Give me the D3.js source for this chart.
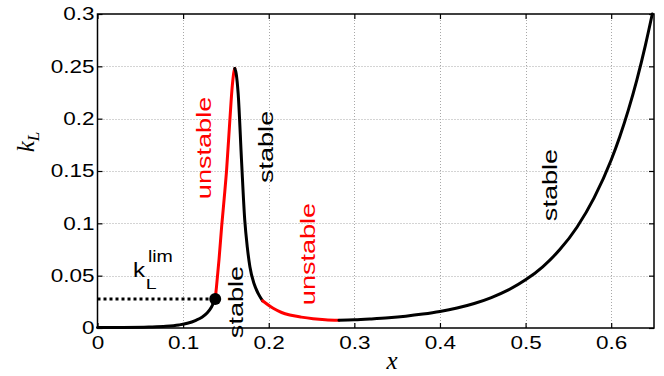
<!DOCTYPE html>
<html>
<head>
<meta charset="utf-8">
<script src="https://cdn.jsdelivr.net/npm/d3@7"></script>
<style>
  body { margin: 0; background: #fff; }
  svg { display: block; font-family: "Liberation Sans", Arial, sans-serif; }
</style>
</head>
<body>
<svg width="664" height="376"></svg>
<script>
// Branches of the k_L(x) curve as [x, kL]
let stableLow = [[0, 0.0004], [0.03, 0.0005], [0.06, 0.0009], [0.08, 0.0016], [0.095, 0.0029],
  [0.105, 0.0045], [0.115, 0.0074], [0.122, 0.0103], [0.128, 0.0143], [0.133, 0.0198], [0.1375, 0.0277]];
let unstableRise = [[0.1375, 0.0277], [0.139, 0.0395], [0.142, 0.066], [0.145, 0.0968], [0.148, 0.124],
  [0.1508, 0.151], [0.1546, 0.1987], [0.1575, 0.232], [0.1595, 0.2455], [0.1604, 0.248]];
let stableFall = [[0.1604, 0.248], [0.162, 0.243], [0.1643, 0.224], [0.1682, 0.1605], [0.172, 0.103],
  [0.175, 0.077], [0.178, 0.0586], [0.183, 0.042], [0.1876, 0.0331], [0.1928, 0.026]];
let unstableTail = [[0.1928, 0.026], [0.2052, 0.0188], [0.215, 0.0148], [0.2246, 0.0124], [0.238, 0.0104],
  [0.2518, 0.0089], [0.266, 0.0079], [0.282, 0.0074]];
let stableHigh = [[0.282, 0.0074], [0.3, 0.0078], [0.32, 0.0087], [0.34, 0.0098], [0.36, 0.0113],
  [0.38, 0.0133], [0.4, 0.0158], [0.42, 0.0191], [0.44, 0.0234], [0.46, 0.0291], [0.48, 0.0364],
  [0.5, 0.046], [0.52, 0.0585], [0.54, 0.0749], [0.56, 0.0963], [0.58, 0.1243], [0.6, 0.1605],
  [0.61, 0.1827], [0.62, 0.2081], [0.63, 0.2371], [0.64, 0.2703], [0.648, 0.3]];

let kLim = [0.1375, 0.0277];

let xTicks = [0, 0.1, 0.2, 0.3, 0.4, 0.5, 0.6];
let yTicks = [0, 0.05, 0.1, 0.15, 0.2, 0.25, 0.3];

// The svg
let svg = d3.select("svg");
let pLeft = 97.5, pRight = 654, pTop = 14, pBottom = 328;

let x = d3.scaleLinear().domain([0, 0.65]).range([pLeft, pRight]);
let y = d3.scaleLinear().domain([0, 0.3]).range([pBottom, pTop]);
let crisp = v => Math.round(v) + 0.5;

// dotted grid
let grid = svg.append("g")
  .attr("stroke", "#a8a8a8")
  .attr("stroke-width", 1)
  .attr("stroke-dasharray", "1,2");
grid.selectAll(".gx").data(xTicks.filter(d => d > 0)).enter().append("line")
  .attr("x1", d => crisp(x(d))).attr("x2", d => crisp(x(d)))
  .attr("y1", pTop).attr("y2", pBottom);
grid.selectAll(".gy").data(yTicks.filter(d => d > 0 && d < 0.3)).enter().append("line")
  .attr("x1", pLeft).attr("x2", pRight)
  .attr("y1", d => crisp(y(d))).attr("y2", d => crisp(y(d)));

// axes, matlab style: ticks inside on all four sides
let sx = 1.25; // wide glyphs
let xAxis = svg.append("g")
  .attr("transform", `translate(0,${pBottom})`)
  .call(d3.axisBottom(x).tickValues(xTicks).tickFormat(d3.format("")).tickSizeInner(-5).tickSizeOuter(0).tickPadding(8));
let yAxis = svg.append("g")
  .attr("transform", `translate(${pLeft},0)`)
  .call(d3.axisLeft(y).tickValues(yTicks).tickFormat(d3.format("")).tickSizeInner(-5).tickSizeOuter(0).tickPadding(3));
svg.append("g")
  .attr("transform", `translate(0,${pTop})`)
  .call(d3.axisTop(x).tickValues(xTicks).tickFormat("").tickSizeInner(-5).tickSizeOuter(0));
svg.append("g")
  .attr("transform", `translate(${pRight},0)`)
  .call(d3.axisRight(y).tickValues(yTicks).tickFormat("").tickSizeInner(-5).tickSizeOuter(0));

svg.selectAll(".domain").remove();
svg.selectAll(".tick line").attr("stroke", "#000").attr("stroke-width", 1.2);
svg.selectAll(".tick text")
  .attr("fill", "#000")
  .attr("font-family", "'Liberation Sans', Arial, sans-serif")
  .attr("font-size", 18);
xAxis.selectAll(".tick text").attr("transform", `scale(${sx},1)`);
yAxis.selectAll(".tick text").attr("x", -3 / sx).attr("transform", `scale(${sx},1)`);

// box
svg.append("rect")
  .attr("x", pLeft).attr("y", pTop)
  .attr("width", pRight - pLeft).attr("height", pBottom - pTop)
  .attr("fill", "none").attr("stroke", "#000").attr("stroke-width", 1.5);

// curve
let line = d3.line()
  .x(d => x(d[0]))
  .y(d => y(d[1]))
  .curve(d3.curveMonotoneX);

let branches = [
  { pts: stableLow, stable: true },
  { pts: unstableRise, stable: false },
  { pts: stableFall, stable: true },
  { pts: unstableTail, stable: false },
  { pts: stableHigh, stable: true }
];

svg.append("g")
  .selectAll("path")
  .data(branches)
  .enter()
  .append("path")
  .attr("d", d => line(d.pts))
  .attr("fill", "none")
  .attr("stroke", d => d.stable ? "#000" : "#ff0000")
  .attr("stroke-width", 3)
  .attr("stroke-linecap", "round");

// k_L^lim dotted line and point
svg.append("line")
  .attr("x1", x(0)).attr("x2", x(kLim[0]))
  .attr("y1", y(kLim[1])).attr("y2", y(kLim[1]))
  .attr("stroke", "#000")
  .attr("stroke-width", 3)
  .attr("stroke-dasharray", "3,3");
svg.append("circle")
  .attr("cx", x(kLim[0])).attr("cy", y(kLim[1]))
  .attr("r", 6).attr("fill", "#000");

// rotated stability labels
function vlabel(text, xv, kv, color) {
  svg.append("text")
    .attr("transform", `translate(${x(xv)},${y(kv)}) rotate(-90) scale(1.29,1)`)
    .attr("text-anchor", "middle")
    .attr("dy", "0.36em")
    .attr("font-size", 21)
    .attr("fill", color)
    .text(text);
}
vlabel("unstable", 0.1243, 0.172, "#ff0000");
vlabel("stable", 0.1966, 0.173, "#000");
vlabel("unstable", 0.2456, 0.0707, "#ff0000");
vlabel("stable", 0.1616, 0.0248, "#000");
vlabel("stable", 0.528, 0.1366, "#000");

// k_L^lim label
let lx = x(0.0414), ly = y(0.0484);
svg.append("text")
  .attr("transform", `translate(${lx},${ly}) scale(1.15,1)`)
  .attr("font-size", 21).text("k");
svg.append("text")
  .attr("transform", `translate(${lx + 15},${ly - 15.6}) scale(1.15,1)`)
  .attr("font-size", 17).text("lim");
svg.append("text")
  .attr("transform", `translate(${lx + 12.7},${ly + 12}) scale(1.3,1)`)
  .attr("font-size", 15).text("L");

// axis titles
svg.append("text")
  .attr("x", 392).attr("y", 369)
  .attr("text-anchor", "middle")
  .attr("font-family", "'Liberation Serif', 'Times New Roman', serif")
  .attr("font-style", "italic")
  .attr("font-size", 25)
  .text("x");

let yl = svg.append("text")
  .attr("transform", "translate(34,142) rotate(-90)")
  .attr("text-anchor", "middle")
  .attr("font-family", "'Liberation Serif', 'Times New Roman', serif")
  .attr("font-style", "italic")
  .attr("font-size", 25);
yl.append("tspan").text("k");
yl.append("tspan").attr("font-size", 17).attr("dy", 5).text("L");
</script>
</body>
</html>
